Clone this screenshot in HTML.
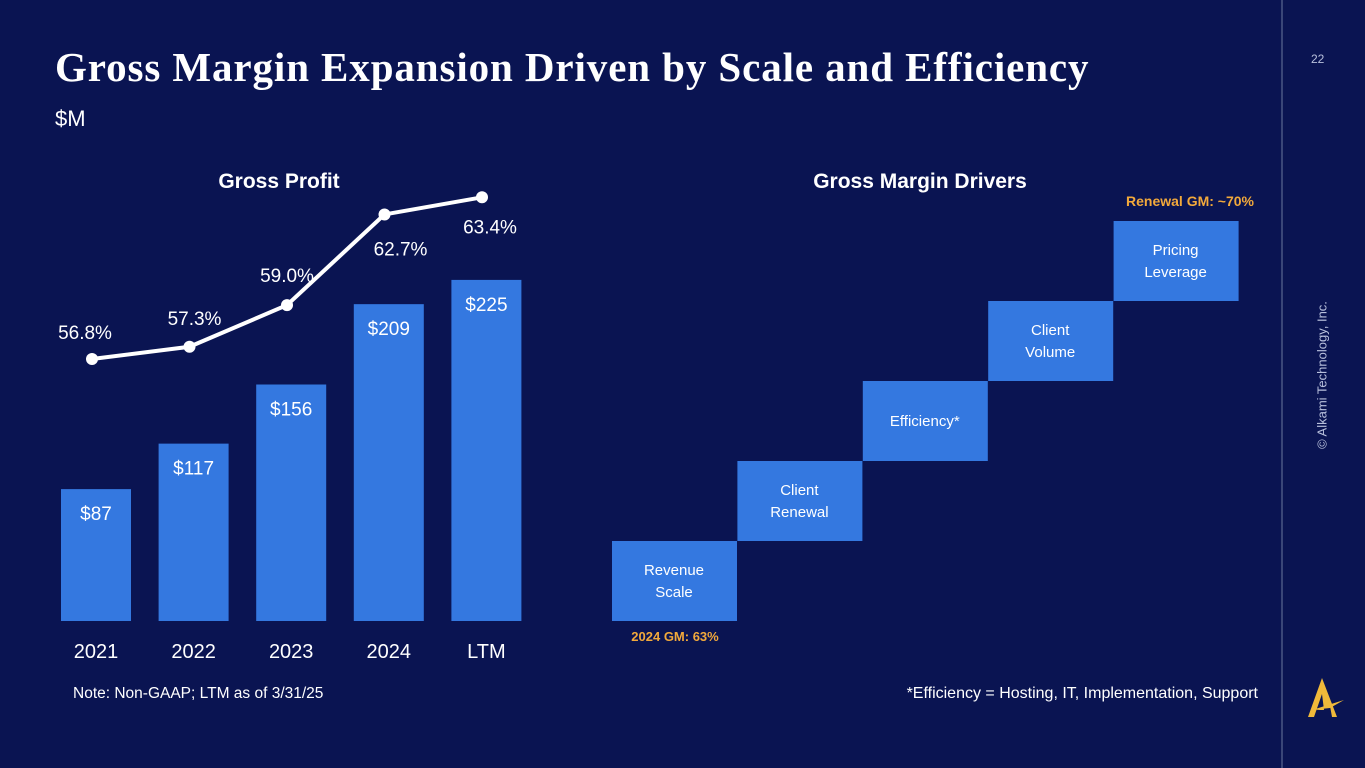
<!DOCTYPE html>
<html><head><meta charset="utf-8"><style>
body{margin:0;width:1365px;height:768px;background:#0a1452;overflow:hidden;font-family:"Liberation Sans",sans-serif;position:relative;color:#fff}
.t{position:absolute;white-space:nowrap}
</style></head><body>
<div class="t" style="left:55px;top:43px;font-family:'Liberation Serif',serif;font-weight:bold;font-size:41px;letter-spacing:0.9px">Gross Margin Expansion Driven by Scale and Efficiency</div>
<div class="t" style="left:55px;top:106px;font-size:22px">$M</div>
<div class="t" style="left:1311px;top:52px;font-size:12px;color:#b8c0dc">22</div>
<div style="position:absolute;left:1281px;top:0;width:2px;height:768px;background:#3a4678"></div>
<div class="t" style="left:1322px;top:375px;font-size:13px;color:#b8c0dc;transform:translate(-50%,-50%) rotate(-90deg)">© Alkami Technology, Inc.</div>
<svg style="position:absolute;left:1300px;top:670px" width="50" height="50"><path d="M22 8 L8 47 L14 47 L22 24 L24 40 L16 40 L30 36 L32 47 L37 47 Z" fill="#f0b93a"/><path d="M12 40 L44 30 L30 38 Z" fill="#f0b93a"/></svg>
<svg width="1365" height="768" style="position:absolute;left:0;top:0" id="c"></svg>
<script>
const years=["2021","2022","2023","2024","LTM"];
const profit=[87,117,156,209,225];
const profitLabels=["$87","$117","$156","$209","$225"];
const margins=[56.8,57.3,59.0,62.7,63.4];
const marginLabels=["56.8%","57.3%","59.0%","62.7%","63.4%"];
const drivers=["Revenue|Scale","Client|Renewal","Efficiency*","Client|Volume","Pricing|Leverage"];
const NS="http://www.w3.org/2000/svg",svg=document.getElementById('c');
function el(t,a,p){const e=document.createElementNS(NS,t);for(const k in a)e.setAttribute(k,a[k]);(p||svg).appendChild(e);return e;}
const base=621,k=1.516;
const xc=i=>96+i*97.6;
const yv=v=>base-v*k;
const ym=m=>359-(m-56.8)*24.5;
function txt(x,y,s,size,fill,weight,name,anchor){const t=el('text',{x:x,y:y,'font-size':size,fill:fill,'text-anchor':anchor||'middle','font-family':'Liberation Sans, sans-serif','font-weight':weight||'normal'});t.textContent=s;return t;}
txt(279,188,"Gross Profit",21,"#fff","bold","chart-title");
profit.forEach((v,i)=>{
 const r=el('rect',{x:xc(i)-35,y:yv(v),width:70,height:v*k,fill:'#3478e0'});
 
 
 txt(xc(i),yv(v)+31,profitLabels[i],19,"#fff","normal","bar-value-"+years[i]);
 txt(xc(i),658,years[i],20,"#fff","normal","x-label-"+years[i]);
});
const mx=i=>92+i*97.5;
const pl=el('polyline',{points:margins.map((m,i)=>mx(i)+','+ym(m)).join(' '),fill:'none',stroke:'#fff','stroke-width':4});


const off=[[-7,-27],[5,-29],[0,-30],[16,34],[8,29]];
margins.forEach((m,i)=>{
 const c=el('circle',{cx:mx(i),cy:ym(m),r:6,fill:'#fff'});
 
 
 txt(mx(i)+off[i][0],ym(m)+off[i][1]+7,marginLabels[i],19,"#fff","normal","margin-label-"+years[i]);
});
txt(73,698,"Note: Non-GAAP; LTM as of 3/31/25",15.5,"#fff","normal","footnote","start");
txt(920,188,"Gross Margin Drivers",21,"#fff","bold","drivers-title");
drivers.forEach((d,i)=>{
 const x=612+i*125.4,y=541-i*80;
 const r=el('rect',{x:x,y:y,width:125,height:80,fill:'#3478e0'});
 
 
 const ls=d.split('|');
 ls.forEach((l,j)=>txt(x+62,y+40+(ls.length==1?5:(j?16:-6)),l,15,"#fff","normal","driver-label-"+i));
});
txt(675,641,"2024 GM: 63%",13,"#f2a93b","bold","start-gm-label");
txt(1190,206,"Renewal GM: ~70%",14,"#f2a93b","bold","target-gm-label");
txt(1258,698,"*Efficiency = Hosting, IT, Implementation, Support",16,"#fff","normal","efficiency-note","end");
</script>
</body></html>
